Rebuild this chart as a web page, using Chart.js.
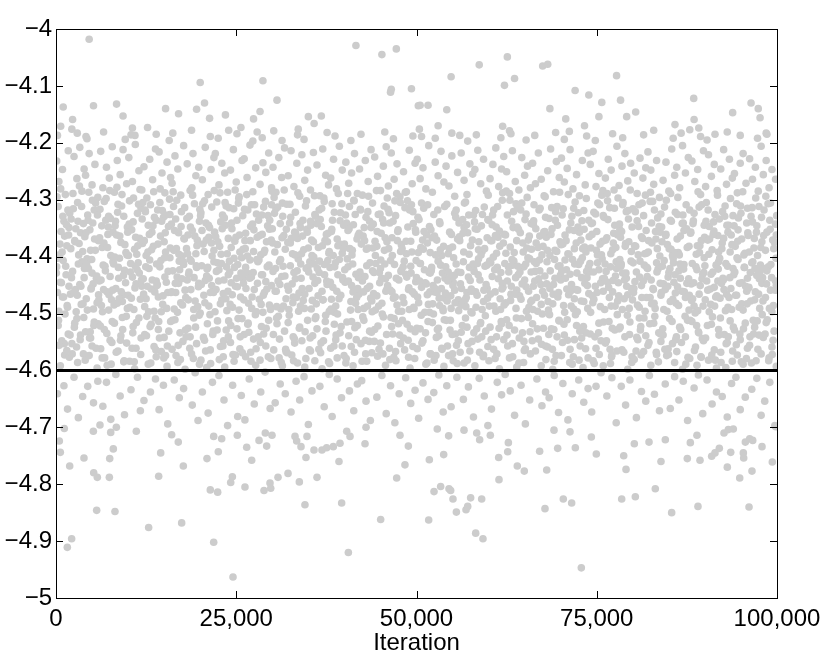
<!DOCTYPE html>
<html lang="en">
<head>
<meta charset="UTF-8">
<title>Sampler trace</title>
<script src="https://cdn.jsdelivr.net/npm/chart.js"></script>
<style>
  html, body { margin: 0; padding: 0; background: #fff; }
  canvas { display: block; }
</style>
</head>
<body>
<canvas id="trace" width="830" height="664"></canvas>
<script>
// axis ticks
const xTicks = [0, 25000, 50000, 75000, 100000];
const yTicks = [-5, -4.9, -4.8, -4.7, -4.6, -4.5, -4.4, -4.3, -4.2, -4.1, -4];
const xRange = [0, 100000];
const refLevel = -4.6;

// samples, pairs of: iteration (thousands), value
const drawsFirstHalf = [
  0.1,-4.232, 0.4,-4.268, 0.9,-4.247, 1.3,-4.291, 1.7,-4.214, 0.2,-4.187, 0.3,-4.312, 0.7,-4.356, 1.1,-4.338, 1.5,-4.381, 1.9,-4.324, 0.5,-4.397, 1.2,-4.364, 1.8,-4.349,
  0.1,-4.418, 0.6,-4.445, 0.9,-4.471, 1.4,-4.432, 1.6,-4.489, 0.2,-4.463, 1.0,-4.407, 1.8,-4.452, 0.4,-4.496, 0.3,-4.521, 0.8,-4.548, 1.2,-4.573, 1.7,-4.536, 0.6,-4.592, 1.5,-4.565, 0.2,-4.641, 1.1,-4.627, 1.6,-4.668,
  2.2,-4.176, 2.5,-4.224, 2.9,-4.263, 3.3,-4.208, 3.6,-4.285, 3.9,-4.246, 2.1,-4.334, 2.6,-4.372, 3.0,-4.305, 3.4,-4.358, 3.7,-4.391, 2.4,-4.316, 3.2,-4.377, 3.8,-4.342,
  2.3,-4.426, 2.7,-4.458, 3.1,-4.413, 3.5,-4.484, 3.9,-4.437, 2.0,-4.466, 2.8,-4.497, 3.3,-4.449, 3.6,-4.409, 2.2,-4.553, 2.6,-4.517, 3.0,-4.586, 3.4,-4.538, 3.8,-4.571, 2.9,-4.509, 2.5,-4.612, 3.1,-4.683, 3.7,-4.646,
  4.3,-4.193, 4.1,-4.257, 4.6,-4.219, 5.0,-4.274, 5.4,-4.238, 5.8,-4.296, 4.0,-4.365, 4.4,-4.327, 4.8,-4.389, 5.1,-4.341, 5.5,-4.306, 5.9,-4.372, 4.7,-4.353, 5.3,-4.318,
  4.2,-4.474, 4.5,-4.421, 4.9,-4.455, 5.2,-4.492, 5.6,-4.438, 5.9,-4.467, 4.3,-4.404, 5.0,-4.429, 5.7,-4.481, 4.1,-4.532, 4.6,-4.574, 5.0,-4.557, 5.3,-4.515, 5.7,-4.596, 4.8,-4.543, 4.4,-4.628, 5.2,-4.657, 5.8,-4.619,
  6.6,-4.181, 6.2,-4.215, 6.5,-4.279, 7.0,-4.243, 7.4,-4.262, 7.8,-4.207, 6.1,-4.317, 6.4,-4.384, 6.9,-4.336, 7.2,-4.361, 7.6,-4.398, 6.7,-4.303, 7.3,-4.329, 7.9,-4.357,
  6.0,-4.443, 6.3,-4.486, 6.8,-4.417, 7.1,-4.462, 7.5,-4.435, 7.9,-4.409, 6.6,-4.458, 7.3,-4.494, 7.7,-4.476, 6.2,-4.562, 6.7,-4.528, 7.1,-4.591, 7.5,-4.547, 7.8,-4.514, 6.4,-4.578, 6.5,-4.663, 7.0,-4.621, 7.6,-4.686,
  9.6,-4.194, 8.1,-4.287, 8.5,-4.231, 8.9,-4.256, 9.3,-4.212, 9.8,-4.272, 8.2,-4.346, 8.6,-4.308, 9.0,-4.375, 9.4,-4.329, 9.7,-4.393, 8.4,-4.362, 9.1,-4.311, 9.9,-4.348,
  8.0,-4.413, 8.3,-4.456, 8.7,-4.438, 9.2,-4.479, 9.5,-4.424, 9.9,-4.491, 8.8,-4.403, 9.3,-4.467, 8.5,-4.482, 8.1,-4.517, 8.6,-4.566, 9.0,-4.539, 9.4,-4.585, 9.8,-4.552, 9.2,-4.507, 8.3,-4.607, 8.9,-4.645, 9.5,-4.678,
  10.4,-4.186, 10.1,-4.226, 10.6,-4.268, 11.0,-4.203, 11.5,-4.249, 11.9,-4.283, 10.2,-4.302, 10.5,-4.353, 10.9,-4.387, 11.3,-4.324, 11.6,-4.368, 10.7,-4.339, 11.2,-4.396, 11.8,-4.315,
  10.0,-4.468, 10.3,-4.427, 10.8,-4.493, 11.1,-4.448, 11.4,-4.411, 11.7,-4.475, 10.6,-4.436, 11.9,-4.452, 11.0,-4.417, 10.2,-4.584, 10.7,-4.523, 11.1,-4.561, 11.5,-4.508, 11.8,-4.543, 10.9,-4.597, 10.4,-4.634, 11.3,-4.612, 11.7,-4.671,
  12.7,-4.173, 12.2,-4.242, 12.6,-4.297, 13.0,-4.229, 13.4,-4.265, 13.8,-4.211, 12.0,-4.377, 12.4,-4.321, 12.8,-4.345, 13.1,-4.309, 13.5,-4.382, 13.9,-4.336, 12.5,-4.398, 13.3,-4.357,
  12.1,-4.439, 12.5,-4.474, 12.9,-4.421, 13.2,-4.457, 13.6,-4.496, 13.9,-4.443, 12.3,-4.488, 13.0,-4.406, 13.7,-4.462, 12.3,-4.537, 12.8,-4.589, 13.2,-4.519, 13.6,-4.558, 13.9,-4.576, 12.6,-4.505, 12.2,-4.653, 13.1,-4.638, 13.8,-4.615,
  15.7,-4.196, 14.3,-4.216, 14.7,-4.253, 15.1,-4.288, 15.4,-4.234, 15.9,-4.261, 14.1,-4.318, 14.5,-4.364, 14.9,-4.331, 15.2,-4.392, 15.6,-4.347, 14.4,-4.305, 15.0,-4.374, 15.8,-4.326,
  14.0,-4.451, 14.4,-4.418, 14.8,-4.484, 15.1,-4.436, 15.5,-4.463, 15.8,-4.402, 14.6,-4.497, 15.3,-4.445, 14.2,-4.471, 14.2,-4.528, 14.6,-4.567, 15.0,-4.542, 15.4,-4.593, 15.9,-4.514, 15.2,-4.574, 14.9,-4.626, 15.5,-4.694, 14.3,-4.669,
  16.2,-4.183, 16.1,-4.271, 16.5,-4.223, 16.9,-4.246, 17.3,-4.292, 17.7,-4.205, 16.0,-4.343, 16.3,-4.312, 16.7,-4.386, 17.0,-4.358, 17.4,-4.321, 17.8,-4.369, 16.6,-4.334, 17.5,-4.399,
  16.2,-4.425, 16.6,-4.463, 17.0,-4.447, 17.3,-4.481, 17.7,-4.414, 17.9,-4.459, 16.4,-4.492, 17.1,-4.408, 16.8,-4.436, 16.1,-4.563, 16.5,-4.511, 16.9,-4.586, 17.2,-4.534, 17.6,-4.549, 17.9,-4.598, 16.4,-4.617, 17.1,-4.648, 17.7,-4.632,
  18.8,-4.178, 18.2,-4.237, 18.6,-4.284, 19.0,-4.219, 19.4,-4.258, 19.8,-4.243, 18.1,-4.386, 18.5,-4.329, 18.9,-4.354, 19.2,-4.307, 19.6,-4.371, 19.9,-4.338, 18.3,-4.362, 19.4,-4.395,
  18.0,-4.472, 18.4,-4.431, 18.7,-4.458, 19.1,-4.493, 19.5,-4.419, 19.8,-4.447, 18.6,-4.405, 19.3,-4.478, 18.2,-4.441, 18.3,-4.526, 18.8,-4.571, 19.1,-4.508, 19.5,-4.553, 19.9,-4.589, 18.6,-4.541, 18.9,-4.661, 19.3,-4.604, 19.7,-4.688,
  21.4,-4.189, 20.3,-4.265, 20.7,-4.208, 21.1,-4.291, 21.5,-4.247, 21.9,-4.226, 20.1,-4.323, 20.4,-4.378, 20.8,-4.341, 21.2,-4.366, 21.6,-4.313, 21.9,-4.389, 20.6,-4.302, 21.3,-4.349,
  20.2,-4.416, 20.5,-4.468, 20.9,-4.434, 21.2,-4.487, 21.6,-4.451, 21.9,-4.409, 20.0,-4.499, 20.7,-4.442, 21.4,-4.463, 20.1,-4.582, 20.6,-4.547, 21.0,-4.518, 21.4,-4.564, 21.8,-4.531, 20.9,-4.595, 20.3,-4.638, 21.1,-4.675, 21.7,-4.621,
  22.5,-4.192, 22.1,-4.219, 22.6,-4.274, 23.0,-4.236, 23.4,-4.253, 23.8,-4.287, 22.0,-4.357, 22.3,-4.304, 22.7,-4.382, 23.1,-4.327, 23.5,-4.345, 23.9,-4.368, 22.9,-4.396, 23.6,-4.311,
  22.2,-4.458, 22.6,-4.423, 23.0,-4.476, 23.3,-4.441, 23.7,-4.495, 23.9,-4.432, 22.4,-4.411, 23.2,-4.465, 22.8,-4.483, 22.4,-4.513, 22.8,-4.558, 23.2,-4.576, 23.6,-4.529, 23.9,-4.541, 23.4,-4.594, 22.6,-4.609, 23.3,-4.652, 23.8,-4.697,
  25.1,-4.184, 24.2,-4.248, 24.6,-4.212, 25.0,-4.269, 25.4,-4.295, 25.8,-4.231, 24.0,-4.314, 24.4,-4.351, 24.8,-4.373, 25.1,-4.336, 25.5,-4.392, 25.9,-4.328, 24.3,-4.384, 25.3,-4.306,
  24.1,-4.427, 24.5,-4.489, 24.9,-4.452, 25.2,-4.414, 25.6,-4.471, 25.9,-4.438, 24.7,-4.403, 25.4,-4.494, 24.3,-4.446, 24.2,-4.551, 24.7,-4.584, 25.1,-4.527, 25.5,-4.562, 25.8,-4.509, 24.9,-4.573, 24.5,-4.626, 25.2,-4.681, 25.7,-4.644,
  27.3,-4.197, 26.1,-4.228, 26.5,-4.261, 26.9,-4.204, 27.3,-4.286, 27.7,-4.244, 26.2,-4.372, 26.6,-4.318, 27.0,-4.347, 27.4,-4.391, 27.8,-4.325, 26.3,-4.359, 27.1,-4.309, 27.9,-4.366,
  26.0,-4.447, 26.3,-4.419, 26.7,-4.482, 27.1,-4.436, 27.5,-4.458, 27.8,-4.497, 26.5,-4.429, 27.2,-4.471, 26.9,-4.406, 26.1,-4.537, 26.6,-4.519, 27.0,-4.568, 27.4,-4.545, 27.7,-4.591, 26.3,-4.576, 26.8,-4.615, 27.5,-4.659, 26.2,-4.687,
  28.6,-4.191, 28.3,-4.273, 28.7,-4.235, 29.1,-4.252, 29.5,-4.218, 29.9,-4.279, 28.1,-4.336, 28.4,-4.397, 28.8,-4.313, 29.2,-4.374, 29.6,-4.352, 29.9,-4.309, 28.6,-4.361, 29.4,-4.328,
  28.2,-4.475, 28.5,-4.432, 28.9,-4.463, 29.3,-4.418, 29.6,-4.485, 29.9,-4.451, 28.0,-4.409, 28.7,-4.498, 29.1,-4.444, 28.3,-4.582, 28.8,-4.536, 29.1,-4.557, 29.5,-4.512, 29.8,-4.579, 28.5,-4.523, 28.4,-4.638, 29.0,-4.603, 29.7,-4.667,
  30.2,-4.179, 30.1,-4.243, 30.5,-4.287, 30.9,-4.226, 31.3,-4.261, 31.7,-4.209, 30.0,-4.351, 30.3,-4.324, 30.7,-4.379, 31.1,-4.342, 31.4,-4.306, 31.8,-4.387, 30.5,-4.316, 31.6,-4.363,
  30.1,-4.426, 30.4,-4.461, 30.8,-4.443, 31.2,-4.492, 31.5,-4.417, 31.9,-4.474, 30.6,-4.488, 31.3,-4.435, 31.0,-4.409, 30.2,-4.564, 30.6,-4.508, 31.0,-4.545, 31.4,-4.592, 31.7,-4.531, 31.9,-4.567, 30.4,-4.657, 31.1,-4.624, 31.8,-4.641,
  33.5,-4.186, 32.2,-4.258, 32.6,-4.214, 33.0,-4.277, 33.4,-4.236, 33.8,-4.294, 32.0,-4.308, 32.4,-4.341, 32.8,-4.395, 33.2,-4.322, 33.5,-4.368, 33.9,-4.349, 32.5,-4.376, 33.1,-4.357,
  32.1,-4.452, 32.5,-4.416, 32.9,-4.471, 33.2,-4.439, 33.6,-4.404, 33.9,-4.487, 32.3,-4.493, 33.0,-4.428, 33.7,-4.464, 32.2,-4.516, 32.7,-4.573, 33.1,-4.552, 33.5,-4.587, 33.8,-4.524, 32.9,-4.541, 32.6,-4.673, 33.3,-4.619, 33.8,-4.652,
  34.4,-4.194, 34.1,-4.221, 34.5,-4.266, 34.9,-4.248, 35.3,-4.283, 35.7,-4.217, 34.2,-4.364, 34.6,-4.311, 35.0,-4.385, 35.3,-4.338, 35.7,-4.374, 35.9,-4.326, 34.8,-4.352, 35.5,-4.398,
  34.0,-4.438, 34.3,-4.477, 34.7,-4.421, 35.1,-4.456, 35.4,-4.492, 35.8,-4.413, 34.5,-4.466, 35.2,-4.409, 35.9,-4.447, 34.1,-4.548, 34.5,-4.594, 34.9,-4.512, 35.3,-4.566, 35.6,-4.539, 35.9,-4.583, 34.4,-4.611, 35.0,-4.695, 35.5,-4.636,
  37.6,-4.182, 36.2,-4.239, 36.6,-4.293, 37.0,-4.211, 37.4,-4.257, 37.8,-4.274, 36.0,-4.329, 36.4,-4.384, 36.8,-4.347, 37.2,-4.303, 37.5,-4.361, 37.9,-4.391, 36.5,-4.318, 37.3,-4.372,
  36.1,-4.483, 36.5,-4.428, 36.9,-4.461, 37.2,-4.414, 37.6,-4.449, 37.9,-4.496, 36.3,-4.442, 37.0,-4.476, 37.7,-4.407, 36.2,-4.527, 36.7,-4.569, 37.1,-4.548, 37.4,-4.503, 37.8,-4.585, 36.9,-4.597, 36.6,-4.628, 37.2,-4.664, 37.9,-4.607,
  38.7,-4.188, 38.1,-4.262, 38.5,-4.229, 38.9,-4.281, 39.3,-4.206, 39.7,-4.248, 38.2,-4.356, 38.6,-4.322, 39.0,-4.369, 39.4,-4.337, 39.7,-4.394, 38.3,-4.307, 39.1,-4.381, 39.9,-4.345,
  38.0,-4.419, 38.4,-4.454, 38.8,-4.487, 39.1,-4.432, 39.5,-4.468, 39.8,-4.441, 38.6,-4.498, 39.3,-4.405, 38.2,-4.475, 38.1,-4.561, 38.6,-4.519, 39.0,-4.578, 39.4,-4.534, 39.7,-4.557, 38.8,-4.546, 38.3,-4.681, 39.0,-4.615, 39.6,-4.648,
  40.9,-4.196, 40.2,-4.234, 40.6,-4.271, 41.0,-4.253, 41.4,-4.219, 41.8,-4.289, 40.0,-4.378, 40.3,-4.341, 40.7,-4.312, 41.1,-4.389, 41.5,-4.326, 41.9,-4.363, 40.5,-4.354, 41.3,-4.301,
  40.1,-4.445, 40.5,-4.418, 40.9,-4.479, 41.2,-4.462, 41.6,-4.431, 41.9,-4.493, 40.4,-4.404, 41.0,-4.451, 41.7,-4.472, 40.2,-4.587, 40.6,-4.539, 41.0,-4.514, 41.4,-4.568, 41.8,-4.521, 41.2,-4.592, 40.7,-4.636, 41.3,-4.671, 41.8,-4.624,
  42.3,-4.185, 42.1,-4.246, 42.5,-4.292, 42.9,-4.231, 43.3,-4.268, 43.7,-4.212, 42.2,-4.317, 42.6,-4.364, 43.0,-4.331, 43.3,-4.385, 43.7,-4.349, 43.9,-4.306, 42.8,-4.372, 43.5,-4.338,
  42.0,-4.466, 42.4,-4.434, 42.7,-4.491, 43.1,-4.416, 43.5,-4.452, 43.8,-4.478, 42.5,-4.443, 43.2,-4.487, 43.9,-4.425, 42.3,-4.553, 42.7,-4.512, 43.1,-4.584, 43.5,-4.531, 43.8,-4.569, 42.9,-4.547, 42.4,-4.618, 43.0,-4.654, 43.6,-4.688,
  45.6,-4.181, 44.2,-4.225, 44.6,-4.259, 45.0,-4.284, 45.4,-4.241, 45.8,-4.207, 44.0,-4.343, 44.3,-4.398, 44.7,-4.326, 45.1,-4.359, 45.5,-4.311, 45.9,-4.374, 44.5,-4.382, 45.3,-4.335,
  44.1,-4.428, 44.5,-4.469, 44.9,-4.446, 45.2,-4.482, 45.6,-4.413, 45.9,-4.457, 44.3,-4.494, 45.0,-4.421, 45.7,-4.439, 44.2,-4.528, 44.6,-4.575, 45.0,-4.552, 45.4,-4.506, 45.7,-4.591, 44.8,-4.563, 44.5,-4.647, 45.2,-4.609, 45.8,-4.676,
  46.8,-4.193, 46.1,-4.276, 46.5,-4.218, 46.9,-4.264, 47.3,-4.237, 47.7,-4.295, 46.2,-4.323, 46.6,-4.367, 47.0,-4.302, 47.4,-4.356, 47.8,-4.391, 46.3,-4.341, 47.1,-4.328, 47.9,-4.379,
  46.0,-4.451, 46.4,-4.407, 46.8,-4.473, 47.2,-4.438, 47.5,-4.496, 47.9,-4.424, 46.6,-4.462, 47.3,-4.485, 46.1,-4.433, 46.3,-4.581, 46.7,-4.536, 47.1,-4.567, 47.5,-4.518, 47.8,-4.553, 46.9,-4.509, 46.4,-4.627, 47.0,-4.692, 47.6,-4.641,
  49.5,-4.188, 48.2,-4.251, 48.6,-4.286, 49.0,-4.213, 49.4,-4.272, 49.8,-4.236, 48.0,-4.386, 48.4,-4.314, 48.8,-4.348, 49.2,-4.373, 49.5,-4.321, 49.9,-4.357, 48.6,-4.395, 49.3,-4.309,
  48.1,-4.472, 48.5,-4.431, 48.9,-4.458, 49.2,-4.417, 49.6,-4.489, 49.9,-4.444, 48.3,-4.408, 49.0,-4.493, 49.7,-4.466, 48.2,-4.543, 48.7,-4.519, 49.1,-4.596, 49.5,-4.558, 49.8,-4.532, 48.9,-4.577, 48.5,-4.613, 49.2,-4.658, 49.8,-4.635
];

const drawsSecondHalf = [
  50.4,-4.176, 50.1,-4.229, 50.5,-4.263, 50.9,-4.244, 51.3,-4.281, 51.7,-4.205, 50.2,-4.331, 50.6,-4.384, 51.0,-4.315, 51.4,-4.362, 51.8,-4.347, 51.9,-4.393, 50.7,-4.306, 51.5,-4.376,
  50.0,-4.437, 50.3,-4.481, 50.7,-4.454, 51.1,-4.423, 51.5,-4.467, 51.8,-4.498, 50.5,-4.412, 51.2,-4.446, 51.9,-4.429, 50.1,-4.562, 50.5,-4.527, 50.9,-4.548, 51.3,-4.589, 51.6,-4.514, 51.9,-4.571, 50.3,-4.684, 50.9,-4.622, 51.6,-4.651,
  52.6,-4.192, 52.2,-4.287, 52.6,-4.234, 53.0,-4.258, 53.4,-4.215, 53.8,-4.269, 52.0,-4.353, 52.4,-4.326, 52.8,-4.371, 53.2,-4.339, 53.5,-4.398, 53.9,-4.312, 52.5,-4.364, 53.3,-4.388,
  52.1,-4.419, 52.5,-4.462, 52.9,-4.441, 53.2,-4.486, 53.6,-4.429, 53.9,-4.473, 52.3,-4.451, 53.0,-4.408, 53.7,-4.495, 52.2,-4.516, 52.7,-4.574, 53.1,-4.539, 53.5,-4.561, 53.8,-4.593, 52.9,-4.528, 52.4,-4.639, 53.1,-4.608, 53.7,-4.673,
  54.9,-4.183, 54.1,-4.241, 54.5,-4.276, 54.9,-4.223, 55.3,-4.294, 55.7,-4.252, 54.2,-4.308, 54.6,-4.357, 55.0,-4.383, 55.3,-4.324, 55.7,-4.369, 55.9,-4.341, 54.4,-4.395, 55.5,-4.318,
  54.0,-4.464, 54.4,-4.427, 54.8,-4.491, 55.1,-4.445, 55.5,-4.413, 55.8,-4.476, 54.6,-4.438, 55.3,-4.459, 55.9,-4.482, 54.3,-4.557, 54.7,-4.512, 55.1,-4.583, 55.4,-4.536, 55.8,-4.548, 55.0,-4.571, 54.2,-4.627, 54.8,-4.664, 55.6,-4.612,
  57.1,-4.197, 56.2,-4.218, 56.6,-4.266, 57.0,-4.291, 57.4,-4.237, 57.8,-4.255, 56.0,-4.372, 56.4,-4.335, 56.8,-4.304, 57.1,-4.358, 57.5,-4.381, 57.9,-4.327, 56.6,-4.349, 57.3,-4.396,
  56.1,-4.448, 56.5,-4.409, 56.9,-4.472, 57.2,-4.436, 57.6,-4.457, 57.9,-4.421, 56.3,-4.485, 57.0,-4.463, 57.7,-4.499, 56.2,-4.533, 56.6,-4.587, 57.0,-4.524, 57.4,-4.566, 57.7,-4.549, 56.8,-4.508, 56.5,-4.651, 57.2,-4.629, 57.9,-4.682,
  58.3,-4.186, 58.1,-4.247, 58.5,-4.213, 58.9,-4.272, 59.3,-4.229, 59.7,-4.285, 58.2,-4.319, 58.6,-4.388, 59.0,-4.346, 59.4,-4.313, 59.8,-4.367, 58.4,-4.352, 59.1,-4.391, 59.9,-4.335,
  58.0,-4.426, 58.4,-4.468, 58.8,-4.441, 59.1,-4.493, 59.5,-4.417, 59.8,-4.456, 58.6,-4.404, 59.3,-4.479, 58.2,-4.462, 58.1,-4.592, 58.5,-4.545, 58.9,-4.516, 59.3,-4.573, 59.6,-4.531, 59.9,-4.558, 58.7,-4.614, 59.4,-4.645, 59.9,-4.697,
  61.7,-4.191, 60.2,-4.263, 60.6,-4.238, 61.0,-4.209, 61.4,-4.277, 61.8,-4.246, 60.0,-4.336, 60.3,-4.372, 60.7,-4.318, 61.1,-4.394, 61.5,-4.355, 61.9,-4.301, 60.5,-4.344, 61.3,-4.366,
  60.1,-4.487, 60.5,-4.435, 60.9,-4.462, 61.2,-4.419, 61.6,-4.474, 61.9,-4.447, 60.3,-4.411, 61.0,-4.496, 61.7,-4.428, 60.2,-4.524, 60.7,-4.563, 61.1,-4.541, 61.5,-4.597, 61.8,-4.518, 60.9,-4.579, 60.4,-4.668, 61.2,-4.621, 61.8,-4.643,
  62.9,-4.179, 62.1,-4.224, 62.5,-4.251, 62.9,-4.289, 63.3,-4.214, 63.7,-4.268, 62.2,-4.361, 62.6,-4.327, 63.0,-4.383, 63.4,-4.349, 63.8,-4.307, 62.4,-4.394, 63.2,-4.338, 63.9,-4.372,
  62.0,-4.454, 62.4,-4.481, 62.8,-4.427, 63.1,-4.466, 63.5,-4.408, 63.8,-4.491, 62.6,-4.443, 63.3,-4.415, 63.9,-4.459, 62.1,-4.546, 62.5,-4.511, 62.9,-4.578, 63.3,-4.553, 63.6,-4.529, 63.9,-4.594, 62.3,-4.607, 63.0,-4.636, 63.6,-4.679,
  65.2,-4.195, 64.2,-4.283, 64.6,-4.226, 65.0,-4.257, 65.4,-4.241, 65.8,-4.279, 64.0,-4.314, 64.4,-4.358, 64.8,-4.392, 65.2,-4.325, 65.5,-4.371, 65.9,-4.342, 64.6,-4.306, 65.3,-4.385,
  64.1,-4.432, 64.5,-4.475, 64.9,-4.418, 65.2,-4.453, 65.6,-4.489, 65.9,-4.427, 64.3,-4.469, 65.0,-4.441, 65.7,-4.404, 64.2,-4.587, 64.7,-4.534, 65.1,-4.562, 65.5,-4.507, 65.8,-4.571, 64.9,-4.549, 64.5,-4.626, 65.1,-4.694, 65.7,-4.652,
  66.4,-4.187, 66.1,-4.236, 66.5,-4.272, 66.9,-4.218, 67.3,-4.264, 67.7,-4.293, 66.2,-4.343, 66.6,-4.376, 67.0,-4.318, 67.4,-4.397, 67.8,-4.356, 66.3,-4.309, 67.1,-4.364, 67.9,-4.331,
  66.0,-4.477, 66.4,-4.443, 66.8,-4.496, 67.1,-4.425, 67.5,-4.461, 67.8,-4.434, 66.6,-4.412, 67.3,-4.484, 66.2,-4.452, 66.1,-4.518, 66.5,-4.566, 66.9,-4.545, 67.3,-4.592, 67.6,-4.526, 67.9,-4.557, 66.7,-4.615, 67.4,-4.662, 67.9,-4.638,
  69.3,-4.182, 68.2,-4.249, 68.6,-4.211, 69.0,-4.286, 69.4,-4.233, 69.8,-4.261, 68.0,-4.366, 68.4,-4.333, 68.8,-4.351, 69.2,-4.389, 69.5,-4.312, 69.9,-4.374, 68.5,-4.398, 69.3,-4.321,
  68.1,-4.409, 68.5,-4.456, 68.9,-4.483, 69.2,-4.438, 69.6,-4.471, 69.9,-4.416, 68.3,-4.494, 69.0,-4.449, 69.7,-4.463, 68.2,-4.559, 68.7,-4.527, 69.1,-4.584, 69.5,-4.541, 69.8,-4.513, 68.9,-4.598, 68.4,-4.648, 69.1,-4.609, 69.7,-4.674,
  70.5,-4.194, 70.1,-4.227, 70.5,-4.269, 70.9,-4.245, 71.3,-4.212, 71.7,-4.281, 70.2,-4.327, 70.6,-4.362, 71.0,-4.395, 71.4,-4.341, 71.8,-4.315, 70.3,-4.378, 71.2,-4.353, 71.9,-4.386,
  70.0,-4.441, 70.4,-4.486, 70.8,-4.423, 71.1,-4.467, 71.5,-4.449, 71.8,-4.492, 70.6,-4.406, 71.3,-4.431, 71.9,-4.474, 70.1,-4.574, 70.5,-4.538, 70.9,-4.511, 71.3,-4.563, 71.6,-4.589, 71.9,-4.546, 70.3,-4.623, 71.0,-4.687, 71.6,-4.641,
  73.6,-4.188, 72.2,-4.256, 72.6,-4.293, 73.0,-4.231, 73.4,-4.274, 73.8,-4.218, 72.0,-4.304, 72.4,-4.348, 72.8,-4.371, 73.2,-4.319, 73.5,-4.392, 73.9,-4.336, 72.6,-4.357, 73.3,-4.383,
  72.1,-4.458, 72.5,-4.414, 72.9,-4.437, 73.2,-4.479, 73.6,-4.426, 73.9,-4.465, 72.3,-4.497, 73.0,-4.402, 73.7,-4.451, 72.2,-4.521, 72.7,-4.557, 73.1,-4.595, 73.5,-4.534, 73.8,-4.578, 72.9,-4.543, 72.5,-4.617, 73.2,-4.656, 73.8,-4.632,
  74.8,-4.196, 74.1,-4.238, 74.5,-4.215, 74.9,-4.277, 75.3,-4.254, 75.7,-4.292, 74.2,-4.385, 74.6,-4.322, 75.0,-4.356, 75.4,-4.309, 75.8,-4.373, 74.4,-4.341, 75.1,-4.397, 75.9,-4.328,
  74.0,-4.427, 74.4,-4.469, 74.8,-4.452, 75.1,-4.411, 75.5,-4.488, 75.8,-4.439, 74.6,-4.475, 75.3,-4.423, 75.9,-4.461, 74.1,-4.536, 74.5,-4.583, 74.9,-4.561, 75.3,-4.517, 75.6,-4.548, 75.9,-4.592, 74.3,-4.673, 74.9,-4.628, 75.6,-4.604,
  77.2,-4.184, 76.2,-4.262, 76.6,-4.229, 77.0,-4.248, 77.4,-4.283, 77.8,-4.206, 76.0,-4.331, 76.4,-4.367, 76.8,-4.314, 77.2,-4.388, 77.5,-4.345, 77.9,-4.362, 76.5,-4.302, 77.3,-4.376,
  76.1,-4.493, 76.5,-4.445, 76.9,-4.418, 77.2,-4.462, 77.6,-4.434, 77.9,-4.478, 76.3,-4.426, 77.0,-4.487, 77.7,-4.409, 76.2,-4.552, 76.7,-4.514, 77.1,-4.573, 77.5,-4.529, 77.8,-4.566, 76.9,-4.588, 76.4,-4.645, 77.1,-4.613, 77.7,-4.692,
  78.6,-4.191, 78.1,-4.275, 78.5,-4.241, 78.9,-4.219, 79.3,-4.267, 79.7,-4.236, 78.2,-4.353, 78.6,-4.309, 79.0,-4.377, 79.4,-4.334, 79.8,-4.391, 78.3,-4.366, 79.1,-4.321, 79.9,-4.348,
  78.0,-4.446, 78.4,-4.413, 78.8,-4.474, 79.1,-4.438, 79.5,-4.491, 79.8,-4.456, 78.6,-4.429, 79.3,-4.467, 78.2,-4.405, 78.1,-4.527, 78.5,-4.564, 78.9,-4.541, 79.3,-4.598, 79.6,-4.515, 79.9,-4.576, 78.4,-4.628, 79.0,-4.661, 79.6,-4.617,
  81.5,-4.186, 80.2,-4.253, 80.6,-4.289, 81.0,-4.227, 81.4,-4.262, 81.8,-4.244, 80.0,-4.316, 80.4,-4.382, 80.8,-4.347, 81.2,-4.365, 81.5,-4.328, 81.9,-4.394, 80.6,-4.337, 81.3,-4.306,
  80.1,-4.463, 80.5,-4.427, 80.9,-4.489, 81.2,-4.451, 81.6,-4.415, 81.9,-4.472, 80.3,-4.444, 81.0,-4.408, 81.7,-4.496, 80.2,-4.581, 80.7,-4.546, 81.1,-4.523, 81.5,-4.567, 81.8,-4.539, 80.9,-4.508, 80.5,-4.683, 81.2,-4.637, 81.8,-4.654,
  82.9,-4.178, 82.1,-4.216, 82.5,-4.248, 82.9,-4.273, 83.3,-4.231, 83.7,-4.296, 82.2,-4.372, 82.6,-4.341, 83.0,-4.318, 83.4,-4.386, 83.8,-4.357, 82.4,-4.303, 83.2,-4.369, 83.9,-4.325,
  82.0,-4.435, 82.4,-4.472, 82.8,-4.456, 83.1,-4.491, 83.5,-4.422, 83.8,-4.447, 82.6,-4.483, 83.3,-4.411, 83.9,-4.468, 82.1,-4.556, 82.5,-4.591, 82.9,-4.517, 83.3,-4.572, 83.6,-4.534, 83.9,-4.549, 82.3,-4.609, 83.0,-4.642, 83.7,-4.671,
  85.6,-4.192, 84.2,-4.266, 84.6,-4.234, 85.0,-4.285, 85.4,-4.211, 85.8,-4.257, 84.0,-4.348, 84.4,-4.313, 84.8,-4.379, 85.2,-4.336, 85.5,-4.398, 85.9,-4.322, 84.6,-4.361, 85.3,-4.387,
  84.1,-4.417, 84.5,-4.458, 84.9,-4.436, 85.2,-4.479, 85.6,-4.403, 85.9,-4.464, 84.3,-4.493, 85.0,-4.428, 85.7,-4.445, 84.2,-4.538, 84.7,-4.574, 85.1,-4.509, 85.5,-4.553, 85.8,-4.586, 84.9,-4.562, 84.5,-4.624, 85.2,-4.667, 85.8,-4.611,
  86.7,-4.183, 86.1,-4.243, 86.5,-4.279, 86.9,-4.205, 87.3,-4.253, 87.7,-4.226, 86.2,-4.326, 86.6,-4.364, 87.0,-4.341, 87.4,-4.309, 87.8,-4.382, 86.3,-4.393, 87.1,-4.354, 87.9,-4.318,
  86.0,-4.482, 86.4,-4.425, 86.8,-4.461, 87.1,-4.414, 87.5,-4.447, 87.8,-4.494, 86.6,-4.438, 87.3,-4.472, 86.2,-4.453, 86.1,-4.567, 86.5,-4.524, 86.9,-4.598, 87.3,-4.541, 87.6,-4.512, 87.9,-4.579, 86.4,-4.652, 87.0,-4.619, 87.6,-4.688,
  89.4,-4.189, 88.2,-4.232, 88.6,-4.268, 89.0,-4.247, 89.4,-4.291, 89.8,-4.214, 88.0,-4.359, 88.4,-4.337, 88.8,-4.396, 89.2,-4.313, 89.5,-4.372, 89.9,-4.345, 88.5,-4.324, 89.3,-4.381,
  88.1,-4.448, 88.5,-4.487, 88.9,-4.423, 89.2,-4.466, 89.6,-4.439, 89.9,-4.402, 88.3,-4.474, 89.0,-4.495, 89.7,-4.431, 88.2,-4.514, 88.7,-4.559, 89.1,-4.532, 89.5,-4.577, 89.8,-4.548, 88.9,-4.591, 88.5,-4.631, 89.1,-4.608, 89.7,-4.676,
  90.3,-4.195, 90.1,-4.277, 90.5,-4.221, 90.9,-4.259, 91.3,-4.238, 91.7,-4.284, 90.2,-4.305, 90.6,-4.347, 91.0,-4.388, 91.4,-4.326, 91.8,-4.363, 90.4,-4.371, 91.2,-4.339, 91.9,-4.392,
  90.0,-4.416, 90.4,-4.459, 90.8,-4.484, 91.1,-4.427, 91.5,-4.471, 91.8,-4.443, 90.6,-4.497, 91.3,-4.454, 91.9,-4.409, 90.1,-4.543, 90.5,-4.582, 90.9,-4.519, 91.3,-4.564, 91.6,-4.596, 91.9,-4.528, 90.3,-4.617, 91.0,-4.659, 91.6,-4.638,
  93.1,-4.181, 92.2,-4.246, 92.6,-4.212, 93.0,-4.273, 93.4,-4.229, 93.8,-4.262, 92.0,-4.334, 92.4,-4.376, 92.8,-4.311, 93.2,-4.357, 93.5,-4.392, 93.9,-4.328, 92.6,-4.368, 93.3,-4.345,
  92.1,-4.473, 92.5,-4.438, 92.9,-4.412, 93.2,-4.489, 93.6,-4.456, 93.9,-4.421, 92.3,-4.447, 93.0,-4.466, 93.7,-4.493, 92.2,-4.568, 92.7,-4.537, 93.1,-4.551, 93.5,-4.513, 93.8,-4.584, 92.9,-4.595, 92.4,-4.646, 93.1,-4.682, 93.7,-4.623,
  94.9,-4.187, 94.1,-4.254, 94.5,-4.288, 94.9,-4.236, 95.3,-4.219, 95.7,-4.271, 94.2,-4.382, 94.6,-4.353, 95.0,-4.324, 95.4,-4.397, 95.8,-4.341, 94.4,-4.307, 95.1,-4.369, 95.9,-4.315,
  94.0,-4.432, 94.4,-4.468, 94.8,-4.447, 95.1,-4.483, 95.5,-4.419, 95.8,-4.461, 94.6,-4.405, 95.3,-4.494, 95.9,-4.438, 94.1,-4.529, 94.5,-4.573, 94.9,-4.546, 95.3,-4.589, 95.6,-4.517, 95.9,-4.561, 94.3,-4.612, 94.9,-4.669, 95.6,-4.647,
  97.3,-4.192, 96.2,-4.228, 96.6,-4.264, 97.0,-4.243, 97.4,-4.285, 97.8,-4.206, 96.0,-4.363, 96.4,-4.329, 96.8,-4.385, 97.2,-4.346, 97.5,-4.312, 97.9,-4.374, 96.6,-4.339, 97.3,-4.398,
  96.1,-4.454, 96.5,-4.411, 96.9,-4.476, 97.2,-4.433, 97.6,-4.491, 97.9,-4.447, 96.3,-4.428, 97.0,-4.462, 97.7,-4.415, 96.2,-4.556, 96.7,-4.512, 97.1,-4.583, 97.5,-4.538, 97.8,-4.571, 96.9,-4.524, 96.5,-4.633, 97.2,-4.614, 97.8,-4.679,
  98.6,-4.185, 98.1,-4.256, 98.5,-4.231, 98.9,-4.279, 99.3,-4.247, 99.8,-4.264, 98.2,-4.318, 98.6,-4.357, 99.0,-4.336, 99.4,-4.371, 99.8,-4.343, 98.4,-4.389, 99.1,-4.306, 99.9,-4.362,
  98.0,-4.437, 98.4,-4.472, 98.8,-4.418, 99.1,-4.459, 99.5,-4.486, 99.8,-4.443, 98.6,-4.425, 99.3,-4.497, 99.9,-4.451, 98.1,-4.542, 98.5,-4.516, 98.9,-4.578, 99.3,-4.559, 99.6,-4.531, 99.9,-4.593, 98.3,-4.654, 99.0,-4.621, 99.7,-4.697
];

// extra draws filling the dense core between about -4.28 and -4.59
const drawsCore = [
  0.15,-4.295, 0.35,-4.512, 0.55,-4.378, 0.75,-4.446, 0.95,-4.329, 1.15,-4.553, 1.35,-4.417, 1.55,-4.486, 1.75,-4.362, 1.95,-4.538, 0.25,-4.403, 0.65,-4.281, 1.05,-4.471, 1.45,-4.344, 1.85,-4.577, 0.05,-4.429, 0.45,-4.556, 0.85,-4.392, 1.25,-4.501, 1.65,-4.318,
  2.15,-4.437, 2.35,-4.289, 2.55,-4.524, 2.75,-4.351, 2.95,-4.468, 3.15,-4.397, 3.35,-4.546, 3.55,-4.312, 3.75,-4.483, 3.95,-4.421, 2.25,-4.571, 2.65,-4.374, 3.05,-4.338, 3.45,-4.452, 3.85,-4.507, 2.05,-4.386, 2.45,-4.463, 2.85,-4.559, 3.25,-4.276, 3.65,-4.412,
  4.15,-4.358, 4.35,-4.494, 4.55,-4.287, 4.75,-4.532, 4.95,-4.405, 5.15,-4.448, 5.35,-4.369, 5.55,-4.561, 5.75,-4.327, 5.95,-4.476, 4.25,-4.413, 4.65,-4.543, 5.05,-4.301, 5.45,-4.389, 5.85,-4.518, 4.05,-4.582, 4.45,-4.336, 4.85,-4.457, 5.25,-4.521, 5.65,-4.434,
  6.15,-4.522, 6.35,-4.346, 6.55,-4.415, 6.75,-4.578, 6.95,-4.298, 7.15,-4.384, 7.35,-4.467, 7.55,-4.333, 7.75,-4.551, 7.95,-4.402, 6.25,-4.441, 6.65,-4.376, 7.05,-4.535, 7.45,-4.284, 7.85,-4.459, 6.05,-4.367, 6.45,-4.497, 6.85,-4.425, 7.25,-4.348, 7.65,-4.589,
  8.15,-4.401, 8.35,-4.568, 8.55,-4.322, 8.75,-4.474, 8.95,-4.547, 9.15,-4.291, 9.35,-4.433, 9.55,-4.379, 9.75,-4.505, 9.95,-4.357, 8.25,-4.338, 8.65,-4.419, 9.05,-4.462, 9.45,-4.583, 9.85,-4.397, 8.05,-4.485, 8.45,-4.278, 8.85,-4.364, 9.25,-4.528, 9.65,-4.446,
  10.15,-4.343, 10.35,-4.412, 10.55,-4.561, 10.75,-4.297, 10.95,-4.455, 11.15,-4.516, 11.35,-4.381, 11.55,-4.429, 11.75,-4.572, 11.95,-4.334, 10.25,-4.489, 10.65,-4.534, 11.05,-4.366, 11.45,-4.308, 11.85,-4.441, 10.05,-4.398, 10.45,-4.473, 10.85,-4.585, 11.25,-4.423, 11.65,-4.282,
  12.15,-4.466, 12.35,-4.318, 12.55,-4.539, 12.75,-4.392, 12.95,-4.361, 13.15,-4.587, 13.35,-4.441, 13.55,-4.286, 13.75,-4.508, 13.95,-4.413, 12.25,-4.372, 12.65,-4.452, 13.05,-4.523, 13.45,-4.346, 13.85,-4.564, 12.05,-4.305, 12.45,-4.418, 12.85,-4.497, 13.25,-4.388, 13.65,-4.331,
  14.15,-4.378, 14.35,-4.543, 14.55,-4.407, 14.75,-4.319, 14.95,-4.578, 15.15,-4.358, 15.35,-4.491, 15.55,-4.426, 15.75,-4.299, 15.95,-4.463, 14.25,-4.514, 14.65,-4.338, 15.05,-4.402, 15.45,-4.557, 15.85,-4.385, 14.05,-4.449, 14.45,-4.281, 14.85,-4.469, 15.25,-4.327, 15.65,-4.531,
  16.15,-4.512, 16.35,-4.389, 16.55,-4.447, 16.75,-4.301, 16.95,-4.556, 17.15,-4.423, 17.35,-4.347, 17.55,-4.485, 17.75,-4.368, 17.95,-4.529, 16.25,-4.286, 16.65,-4.574, 17.05,-4.396, 17.45,-4.439, 17.85,-4.314, 16.05,-4.462, 16.45,-4.354, 16.85,-4.498, 17.25,-4.581, 17.65,-4.409,
  18.15,-4.333, 18.35,-4.476, 18.55,-4.561, 18.75,-4.408, 18.95,-4.292, 19.15,-4.437, 19.35,-4.524, 19.55,-4.381, 19.75,-4.453, 19.95,-4.317, 18.25,-4.395, 18.65,-4.348, 19.05,-4.579, 19.45,-4.416, 19.85,-4.503, 18.05,-4.541, 18.45,-4.427, 18.85,-4.279, 19.25,-4.364, 19.65,-4.488,
  20.15,-4.449, 20.35,-4.307, 20.55,-4.391, 20.75,-4.566, 20.95,-4.422, 21.15,-4.345, 21.35,-4.502, 21.55,-4.376, 21.75,-4.537, 21.95,-4.284, 20.25,-4.354, 20.65,-4.481, 21.05,-4.419, 21.45,-4.588, 21.85,-4.463, 20.05,-4.328, 20.45,-4.542, 20.85,-4.371, 21.25,-4.438, 21.65,-4.399,
  22.15,-4.365, 22.35,-4.529, 22.55,-4.443, 22.75,-4.288, 22.95,-4.412, 23.15,-4.557, 23.35,-4.332, 23.55,-4.474, 23.75,-4.395, 23.95,-4.513, 22.25,-4.426, 22.65,-4.581, 23.05,-4.351, 23.45,-4.305, 23.85,-4.461, 22.05,-4.497, 22.45,-4.374, 22.85,-4.339, 23.25,-4.548, 23.65,-4.418,
  24.15,-4.484, 24.35,-4.341, 24.55,-4.572, 24.75,-4.419, 24.95,-4.366, 25.15,-4.453, 25.35,-4.298, 25.55,-4.541, 25.75,-4.402, 25.95,-4.387, 24.25,-4.521, 24.65,-4.316, 25.05,-4.438, 25.45,-4.362, 25.85,-4.569, 24.05,-4.408, 24.45,-4.467, 24.85,-4.283, 25.25,-4.509, 25.65,-4.429,
  26.15,-4.317, 26.35,-4.456, 26.55,-4.399, 26.75,-4.533, 26.95,-4.372, 27.15,-4.491, 27.35,-4.428, 27.55,-4.309, 27.75,-4.562, 27.95,-4.447, 26.25,-4.386, 26.65,-4.517, 27.05,-4.584, 27.45,-4.353, 27.85,-4.405, 26.05,-4.476, 26.45,-4.291, 26.85,-4.438, 27.25,-4.343, 27.65,-4.502,
  28.15,-4.406, 28.35,-4.551, 28.55,-4.327, 28.75,-4.468, 28.95,-4.389, 29.15,-4.526, 29.35,-4.346, 29.55,-4.415, 29.75,-4.493, 29.95,-4.285, 28.25,-4.363, 28.65,-4.432, 29.05,-4.303, 29.45,-4.576, 29.85,-4.371, 28.05,-4.541, 28.45,-4.484, 28.85,-4.393, 29.25,-4.457, 29.65,-4.336,
  30.15,-4.537, 30.35,-4.392, 30.55,-4.461, 30.75,-4.313, 30.95,-4.578, 31.15,-4.405, 31.35,-4.367, 31.55,-4.487, 31.75,-4.434, 31.95,-4.352, 30.25,-4.296, 30.65,-4.518, 31.05,-4.449, 31.45,-4.329, 31.85,-4.563, 30.05,-4.376, 30.45,-4.421, 30.85,-4.505, 31.25,-4.586, 31.65,-4.283,
  32.15,-4.375, 32.35,-4.503, 32.55,-4.331, 32.75,-4.448, 32.95,-4.583, 33.15,-4.397, 33.35,-4.472, 33.55,-4.288, 33.75,-4.526, 33.95,-4.413, 32.25,-4.459, 32.65,-4.368, 33.05,-4.544, 33.45,-4.425, 33.85,-4.342, 32.05,-4.569, 32.45,-4.308, 32.85,-4.481, 33.25,-4.359, 33.65,-4.496,
  34.15,-4.456, 34.35,-4.388, 34.55,-4.532, 34.75,-4.302, 34.95,-4.419, 35.15,-4.564, 35.35,-4.345, 35.55,-4.477, 35.75,-4.401, 35.95,-4.509, 34.25,-4.336, 34.65,-4.579, 35.05,-4.427, 35.45,-4.371, 35.85,-4.293, 34.05,-4.395, 34.45,-4.491, 34.85,-4.357, 35.25,-4.543, 35.65,-4.436,
  36.15,-4.342, 36.35,-4.469, 36.55,-4.408, 36.75,-4.552, 36.95,-4.381, 37.15,-4.297, 37.35,-4.514, 37.55,-4.443, 37.75,-4.359, 37.95,-4.588, 36.25,-4.421, 36.65,-4.335, 37.05,-4.476, 37.45,-4.531, 37.85,-4.394, 36.05,-4.506, 36.45,-4.563, 36.85,-4.315, 37.25,-4.432, 37.65,-4.374,
  38.15,-4.492, 38.35,-4.336, 38.55,-4.557, 38.75,-4.411, 38.95,-4.461, 39.15,-4.289, 39.35,-4.378, 39.55,-4.523, 39.75,-4.437, 39.95,-4.574, 38.25,-4.352, 38.65,-4.418, 39.05,-4.501, 39.45,-4.323, 39.85,-4.386, 38.05,-4.445, 38.45,-4.398, 38.85,-4.538, 39.25,-4.474, 39.65,-4.307,
  40.15,-4.327, 40.35,-4.515, 40.55,-4.443, 40.75,-4.386, 40.95,-4.558, 41.15,-4.413, 41.35,-4.302, 41.55,-4.482, 41.75,-4.369, 41.95,-4.437, 40.25,-4.579, 40.65,-4.351, 41.05,-4.397, 41.45,-4.525, 41.85,-4.456, 40.05,-4.423, 40.45,-4.289, 40.85,-4.494, 41.25,-4.344, 41.65,-4.546,
  42.15,-4.427, 42.35,-4.378, 42.55,-4.506, 42.75,-4.349, 42.95,-4.571, 43.15,-4.456, 43.35,-4.294, 43.55,-4.411, 43.75,-4.533, 43.95,-4.385, 42.25,-4.318, 42.65,-4.462, 43.05,-4.387, 43.45,-4.549, 43.85,-4.497, 42.05,-4.359, 42.45,-4.584, 42.85,-4.435, 43.25,-4.321, 43.65,-4.473,
  44.15,-4.549, 44.35,-4.412, 44.55,-4.356, 44.75,-4.487, 44.95,-4.325, 45.15,-4.438, 45.35,-4.571, 45.55,-4.389, 45.75,-4.461, 45.95,-4.297, 44.25,-4.373, 44.65,-4.522, 45.05,-4.406, 45.45,-4.341, 45.85,-4.537, 44.05,-4.465, 44.45,-4.284, 44.85,-4.428, 45.25,-4.501, 45.65,-4.367,
  46.15,-4.386, 46.35,-4.459, 46.55,-4.523, 46.75,-4.338, 46.95,-4.414, 47.15,-4.583, 47.35,-4.372, 47.55,-4.441, 47.75,-4.305, 47.95,-4.496, 46.25,-4.561, 46.65,-4.398, 47.05,-4.471, 47.45,-4.353, 47.85,-4.426, 46.05,-4.317, 46.45,-4.507, 46.85,-4.577, 47.25,-4.289, 47.65,-4.538,
  48.15,-4.418, 48.35,-4.564, 48.55,-4.373, 48.75,-4.302, 48.95,-4.455, 49.15,-4.527, 49.35,-4.392, 49.55,-4.342, 49.75,-4.579, 49.95,-4.407, 48.25,-4.481, 48.65,-4.436, 49.05,-4.318, 49.45,-4.462, 49.85,-4.353, 48.05,-4.512, 48.45,-4.287, 48.85,-4.547, 49.25,-4.429, 49.65,-4.491,
  50.15,-4.471, 50.35,-4.335, 50.55,-4.412, 50.75,-4.552, 50.95,-4.387, 51.15,-4.498, 51.35,-4.448, 51.55,-4.309, 51.75,-4.428, 51.95,-4.571, 50.25,-4.393, 50.65,-4.503, 51.05,-4.356, 51.45,-4.587, 51.85,-4.462, 50.05,-4.526, 50.45,-4.443, 50.85,-4.371, 51.25,-4.534, 51.65,-4.484,
  52.15,-4.367, 52.35,-4.501, 52.55,-4.456, 52.75,-4.542, 52.95,-4.318, 53.15,-4.473, 53.35,-4.415, 53.55,-4.563, 53.75,-4.382, 53.95,-4.438, 52.25,-4.483, 52.65,-4.397, 53.05,-4.526, 53.45,-4.456, 53.85,-4.511, 52.05,-4.425, 52.45,-4.582, 52.85,-4.463, 53.25,-4.342, 53.65,-4.491,
  54.15,-4.512, 54.35,-4.443, 54.55,-4.386, 54.75,-4.469, 54.95,-4.537, 55.15,-4.402, 55.35,-4.481, 55.55,-4.556, 55.75,-4.427, 55.95,-4.365, 54.25,-4.478, 54.65,-4.529, 55.05,-4.451, 55.45,-4.331, 55.85,-4.495, 54.05,-4.418, 54.45,-4.574, 54.85,-4.361, 55.25,-4.433, 55.65,-4.588,
  56.15,-4.428, 56.35,-4.521, 56.55,-4.392, 56.75,-4.476, 56.95,-4.344, 57.15,-4.553, 57.35,-4.419, 57.55,-4.497, 57.75,-4.371, 57.95,-4.534, 56.25,-4.456, 56.65,-4.306, 57.05,-4.582, 57.45,-4.442, 57.85,-4.413, 56.05,-4.568, 56.45,-4.359, 56.85,-4.488, 57.25,-4.327, 57.65,-4.461,
  58.15,-4.351, 58.35,-4.527, 58.55,-4.432, 58.75,-4.568, 58.95,-4.397, 59.15,-4.326, 59.35,-4.459, 59.55,-4.504, 59.75,-4.415, 59.95,-4.292, 58.25,-4.489, 58.65,-4.374, 59.05,-4.541, 59.45,-4.386, 59.85,-4.473, 58.05,-4.339, 58.45,-4.412, 58.85,-4.518, 59.25,-4.576, 59.65,-4.449,
  60.15,-4.408, 60.35,-4.546, 60.55,-4.327, 60.75,-4.487, 60.95,-4.363, 61.15,-4.571, 61.35,-4.439, 61.55,-4.382, 61.75,-4.514, 61.95,-4.288, 60.25,-4.466, 60.65,-4.401, 61.05,-4.348, 61.45,-4.526, 61.85,-4.457, 60.05,-4.583, 60.45,-4.372, 60.85,-4.423, 61.25,-4.312, 61.65,-4.493,
  62.15,-4.485, 62.35,-4.362, 62.55,-4.538, 62.75,-4.418, 62.95,-4.301, 63.15,-4.452, 63.35,-4.576, 63.55,-4.393, 63.75,-4.437, 63.95,-4.348, 62.25,-4.412, 62.65,-4.557, 63.05,-4.477, 63.45,-4.321, 63.85,-4.508, 62.05,-4.376, 62.45,-4.285, 62.85,-4.521, 63.25,-4.405, 63.65,-4.466,
  64.15,-4.352, 64.35,-4.427, 64.55,-4.509, 64.75,-4.376, 64.95,-4.565, 65.15,-4.413, 65.35,-4.296, 65.55,-4.461, 65.75,-4.532, 65.95,-4.387, 64.25,-4.543, 64.65,-4.448, 65.05,-4.335, 65.45,-4.402, 65.85,-4.479, 64.05,-4.417, 64.45,-4.318, 64.85,-4.586, 65.25,-4.496, 65.65,-4.364,
  66.15,-4.493, 66.35,-4.409, 66.55,-4.351, 66.75,-4.527, 66.95,-4.439, 67.15,-4.315, 67.35,-4.554, 67.55,-4.382, 67.75,-4.468, 67.95,-4.581, 66.25,-4.337, 66.65,-4.472, 67.05,-4.406, 67.45,-4.501, 67.85,-4.295, 66.05,-4.548, 66.45,-4.426, 66.85,-4.384, 67.25,-4.449, 67.65,-4.357,
  68.15,-4.389, 68.35,-4.537, 68.55,-4.425, 68.75,-4.314, 68.95,-4.466, 69.15,-4.405, 69.35,-4.574, 69.55,-4.345, 69.75,-4.512, 69.95,-4.433, 68.25,-4.479, 68.65,-4.361, 69.05,-4.528, 69.45,-4.391, 69.85,-4.287, 68.05,-4.448, 68.45,-4.502, 68.85,-4.563, 69.25,-4.336, 69.65,-4.417,
  70.15,-4.425, 70.35,-4.316, 70.55,-4.498, 70.75,-4.372, 70.95,-4.547, 71.15,-4.396, 71.35,-4.461, 71.55,-4.329, 71.75,-4.576, 71.95,-4.413, 70.25,-4.551, 70.65,-4.438, 71.05,-4.291, 71.45,-4.487, 71.85,-4.354, 70.05,-4.379, 70.45,-4.519, 70.85,-4.457, 71.25,-4.586, 71.65,-4.405,
  72.15,-4.376, 72.35,-4.459, 72.55,-4.582, 72.75,-4.408, 72.95,-4.337, 73.15,-4.523, 73.35,-4.447, 73.55,-4.298, 73.75,-4.491, 73.95,-4.365, 72.25,-4.429, 72.65,-4.531, 73.05,-4.386, 73.45,-4.562, 73.85,-4.419, 72.05,-4.502, 72.45,-4.323, 72.85,-4.478, 73.25,-4.352, 73.65,-4.437,
  74.15,-4.498, 74.35,-4.361, 74.55,-4.427, 74.75,-4.541, 74.95,-4.389, 75.15,-4.306, 75.35,-4.572, 75.55,-4.446, 75.75,-4.404, 75.95,-4.515, 74.25,-4.342, 74.65,-4.588, 75.05,-4.463, 75.45,-4.378, 75.85,-4.284, 74.05,-4.412, 74.45,-4.481, 74.85,-4.325, 75.25,-4.534, 75.65,-4.397,
  76.15,-4.413, 76.35,-4.548, 76.55,-4.335, 76.75,-4.472, 76.95,-4.395, 77.15,-4.526, 77.35,-4.359, 77.55,-4.487, 77.75,-4.421, 77.95,-4.297, 76.25,-4.371, 76.65,-4.454, 77.05,-4.576, 77.45,-4.315, 77.85,-4.502, 76.05,-4.438, 76.45,-4.289, 76.85,-4.563, 77.25,-4.442, 77.65,-4.384,
  78.15,-4.343, 78.35,-4.417, 78.55,-4.493, 78.75,-4.568, 78.95,-4.382, 79.15,-4.452, 79.35,-4.319, 79.55,-4.537, 79.75,-4.408, 79.95,-4.476, 78.25,-4.524, 78.65,-4.305, 79.05,-4.429, 79.45,-4.374, 79.85,-4.586, 78.05,-4.469, 78.45,-4.356, 78.85,-4.441, 79.25,-4.503, 79.65,-4.283,
  80.15,-4.456, 80.35,-4.321, 80.55,-4.542, 80.75,-4.397, 80.95,-4.436, 81.15,-4.573, 81.35,-4.368, 81.55,-4.508, 81.75,-4.292, 81.95,-4.419, 80.25,-4.381, 80.65,-4.485, 81.05,-4.529, 81.45,-4.443, 81.85,-4.354, 80.05,-4.411, 80.45,-4.566, 80.85,-4.309, 81.25,-4.472, 81.65,-4.395,
  82.15,-4.392, 82.35,-4.518, 82.55,-4.441, 82.75,-4.303, 82.95,-4.482, 83.15,-4.356, 83.35,-4.427, 83.55,-4.585, 83.75,-4.399, 83.95,-4.463, 82.25,-4.551, 82.65,-4.376, 83.05,-4.505, 83.45,-4.332, 83.85,-4.536, 82.05,-4.421, 82.45,-4.287, 82.85,-4.458, 83.25,-4.568, 83.65,-4.347,
  84.15,-4.527, 84.35,-4.407, 84.55,-4.363, 84.75,-4.496, 84.95,-4.572, 85.15,-4.421, 85.35,-4.338, 85.55,-4.475, 85.75,-4.393, 85.95,-4.546, 84.25,-4.448, 84.65,-4.301, 85.05,-4.386, 85.45,-4.514, 85.85,-4.432, 84.05,-4.374, 84.45,-4.563, 84.85,-4.452, 85.25,-4.289, 85.65,-4.411,
  86.15,-4.369, 86.35,-4.486, 86.55,-4.413, 86.75,-4.551, 86.95,-4.327, 87.15,-4.462, 87.35,-4.589, 87.55,-4.384, 87.75,-4.439, 87.95,-4.512, 86.25,-4.296, 86.65,-4.528, 87.05,-4.422, 87.45,-4.351, 87.85,-4.468, 86.05,-4.541, 86.45,-4.397, 86.85,-4.342, 87.25,-4.505, 87.65,-4.577,
  88.15,-4.477, 88.35,-4.342, 88.55,-4.565, 88.75,-4.418, 88.95,-4.381, 89.15,-4.534, 89.35,-4.451, 89.55,-4.309, 89.75,-4.487, 89.95,-4.366, 88.25,-4.412, 88.65,-4.499, 89.05,-4.286, 89.45,-4.576, 89.85,-4.428, 88.05,-4.357, 88.45,-4.446, 88.85,-4.521, 89.25,-4.393, 89.65,-4.544,
  90.15,-4.338, 90.35,-4.521, 90.55,-4.396, 90.75,-4.457, 90.95,-4.573, 91.15,-4.361, 91.35,-4.487, 91.55,-4.415, 91.75,-4.292, 91.95,-4.538, 90.25,-4.443, 90.65,-4.369, 91.05,-4.506, 91.45,-4.582, 91.85,-4.422, 90.05,-4.476, 90.45,-4.318, 90.85,-4.431, 91.25,-4.355, 91.65,-4.469,
  92.15,-4.508, 92.35,-4.386, 92.55,-4.441, 92.75,-4.329, 92.95,-4.553, 93.15,-4.417, 93.35,-4.472, 93.55,-4.298, 93.75,-4.379, 93.95,-4.524, 92.25,-4.586, 92.65,-4.458, 93.05,-4.345, 93.45,-4.437, 93.85,-4.566, 92.05,-4.403, 92.45,-4.321, 92.85,-4.495, 93.25,-4.541, 93.65,-4.362,
  94.15,-4.427, 94.35,-4.555, 94.55,-4.373, 94.75,-4.489, 94.95,-4.311, 95.15,-4.446, 95.35,-4.527, 95.55,-4.394, 95.75,-4.579, 95.95,-4.358, 94.25,-4.468, 94.65,-4.332, 95.05,-4.585, 95.45,-4.419, 95.85,-4.483, 94.05,-4.346, 94.45,-4.402, 94.85,-4.536, 95.25,-4.286, 95.65,-4.452,
  96.15,-4.392, 96.35,-4.478, 96.55,-4.314, 96.75,-4.536, 96.95,-4.421, 97.15,-4.357, 97.35,-4.563, 97.55,-4.439, 97.75,-4.384, 97.95,-4.502, 96.25,-4.541, 96.65,-4.409, 97.05,-4.297, 97.45,-4.466, 97.85,-4.331, 96.05,-4.455, 96.45,-4.587, 96.85,-4.368, 97.25,-4.513, 97.65,-4.426,
  98.15,-4.363, 98.35,-4.536, 98.55,-4.448, 98.75,-4.307, 98.95,-4.491, 99.15,-4.414, 99.35,-4.572, 99.55,-4.386, 99.75,-4.459, 99.95,-4.328, 98.25,-4.421, 98.65,-4.511, 99.05,-4.352, 99.45,-4.547, 99.85,-4.403, 98.05,-4.478, 98.45,-4.294, 98.85,-4.583, 99.25,-4.437, 99.65,-4.375
];

const upperTail = [
  4.6,-4.018, 41.6,-4.029, 45.2,-4.045, 47.2,-4.035, 20.0,-4.094, 28.7,-4.091, 30.65,-4.125, 1.0,-4.137, 5.2,-4.135, 8.4,-4.132,
  9.3,-4.153, 15.2,-4.14, 17.0,-4.149, 19.5,-4.141, 20.6,-4.13, 21.3,-4.157, 23.5,-4.151, 23.95,-4.178, 25.65,-4.173, 27.4,-4.158,
  28.3,-4.145, 27.9,-4.181, 31.35,-4.196, 33.6,-4.176, 35.0,-4.154, 35.8,-4.166, 36.8,-4.153, 49.3,-4.105, 46.4,-4.111, 46.5,-4.106,
  50.25,-4.135, 0.65,-4.171, 2.3,-4.159, 2.95,-4.183, 4.16,-4.189, 10.6,-4.174, 10.95,-4.187, 13.9,-4.185,
  62.6,-4.049, 58.7,-4.063, 67.5,-4.065, 68.2,-4.062, 54.8,-4.084, 62.2,-4.099, 63.6,-4.087, 77.75,-4.082, 50.5,-4.134, 51.6,-4.134,
  54.2,-4.142, 68.5,-4.14, 72.0,-4.108, 73.9,-4.116, 75.7,-4.129, 78.3,-4.125, 75.3,-4.154, 79.15,-4.154, 80.4,-4.146, 88.45,-4.122,
  88.5,-4.159, 96.4,-4.13, 97.4,-4.14, 97.65,-4.156, 93.85,-4.147, 70.7,-4.158, 71.2,-4.18, 73.3,-4.17, 53.0,-4.17, 61.95,-4.171,
  63.1,-4.184, 85.85,-4.168, 87.9,-4.177, 89.15,-4.174, 91.4,-4.185, 98.5,-4.183, 50.7,-4.189, 56.0,-4.187
];

const lowerTail = [
  24.55,-4.963, 40.55,-4.92, 21.87,-4.902, 1.57,-4.911, 2.17,-4.896, 12.85,-4.876, 17.43,-4.868, 5.64,-4.846, 8.18,-4.848, 34.53,-4.836,
  39.62,-4.833, 45.03,-4.862, 21.4,-4.81, 22.42,-4.814, 24.23,-4.797, 24.46,-4.787, 26.21,-4.805, 28.85,-4.811, 29.68,-4.798, 29.78,-4.807,
  30.79,-4.788, 32.18,-4.781, 33.75,-4.796, 36.2,-4.788, 14.24,-4.786, 17.66,-4.768, 7.4,-4.788, 5.23,-4.78, 5.73,-4.788, 1.9,-4.768,
  3.88,-4.754, 0.6,-4.744, 0.46,-4.724, 1.15,-4.702, 5.18,-4.707, 6.1,-4.696, 7.45,-4.755, 7.95,-4.738, 7.59,-4.709, 8.37,-4.7,
  11.14,-4.707, 14.52,-4.745, 16.04,-4.713, 16.96,-4.726, 20.94,-4.755, 22.51,-4.743, 21.87,-4.716, 22.98,-4.72, 25.15,-4.714, 26.45,-4.735,
  27.14,-4.758, 28.16,-4.723, 29.03,-4.71, 29.22,-4.733, 29.96,-4.714, 33.15,-4.716, 33.38,-4.724, 33.98,-4.734, 34.67,-4.753, 34.81,-4.716,
  35.78,-4.74, 36.89,-4.74, 37.54,-4.736, 38.46,-4.734, 39.39,-4.728, 39.25,-4.76, 40.32,-4.707, 40.78,-4.716, 42.86,-4.729, 43.0,-4.7,
  47.25,-4.789, 48.4,-4.766, 48.87,-4.733, 47.71,-4.714,
  72.86,-4.947, 51.69,-4.863, 58.21,-4.886, 59.22,-4.896, 52.43,-4.813, 53.35,-4.804, 54.51,-4.808, 54.74,-4.811, 55.06,-4.826, 55.53,-4.849,
  56.87,-4.845, 57.1,-4.839, 57.51,-4.824, 59.04,-4.826, 61.44,-4.792, 61.4,-4.753, 62.74,-4.727, 62.65,-4.743, 63.98,-4.768, 64.95,-4.777,
  67.82,-4.843, 68.06,-4.775, 67.08,-4.742, 70.36,-4.826, 71.52,-4.833, 69.58,-4.737, 72.03,-4.736, 74.25,-4.717, 74.94,-4.747, 78.46,-4.826,
  80.35,-4.822, 83.12,-4.808, 85.39,-4.85, 89.04,-4.839, 96.12,-4.84, 78.74,-4.75, 79.06,-4.774, 80.21,-4.729, 82.25,-4.726, 83.91,-4.76,
  84.51,-4.722, 87.56,-4.755, 87.98,-4.727, 89.32,-4.758, 88.9,-4.714, 90.94,-4.751, 91.4,-4.745, 92.0,-4.737, 93.11,-4.77, 93.58,-4.744,
  94.83,-4.789, 95.33,-4.745, 95.38,-4.754, 96.53,-4.777, 97.92,-4.734, 99.35,-4.761, 95.61,-4.726, 96.21,-4.72, 96.63,-4.723, 92.65,-4.71,
  93.25,-4.704, 93.94,-4.703, 51.78,-4.757, 53.77,-4.748, 56.59,-4.705, 58.35,-4.71, 58.76,-4.722, 60.24,-4.714, 52.88,-4.703, 54.46,-4.715,
  69.07,-4.705, 71.29,-4.708, 99.82,-4.699
];

function toPoints(flat) {
  const pts = [];
  for (let i = 0; i < flat.length; i += 2) {
    pts.push({ x: flat[i] * 1000, y: flat[i + 1] });
  }
  return pts;
}

const samples = [].concat(
  toPoints(drawsFirstHalf), toPoints(drawsSecondHalf), toPoints(drawsCore),
  toPoints(upperTail), toPoints(lowerTail)
);

const axisFont = { family: '"Liberation Sans", Arial, Helvetica, sans-serif', size: 24 };

// box round the plot with inward ticks on all four sides
const matlabFrame = {
  id: 'matlabFrame',
  afterDatasetsDraw(chart) {
    const { ctx, chartArea: a, scales } = chart;
    const len = 7;
    ctx.save();
    ctx.strokeStyle = '#000';
    ctx.lineWidth = 1;
    ctx.beginPath();
    scales.x.ticks.forEach(t => {
      const px = Math.round(scales.x.getPixelForValue(t.value)) + 0.5;
      ctx.moveTo(px, a.bottom); ctx.lineTo(px, a.bottom - len);
      ctx.moveTo(px, a.top); ctx.lineTo(px, a.top + len);
    });
    scales.y.ticks.forEach(t => {
      const py = Math.round(scales.y.getPixelForValue(t.value)) + 0.5;
      ctx.moveTo(a.left, py); ctx.lineTo(a.left + len, py);
      ctx.moveTo(a.right, py); ctx.lineTo(a.right - len, py);
    });
    ctx.stroke();
    ctx.strokeRect(a.left + 0.5, a.top + 0.5, a.right - a.left, a.bottom - a.top);
    ctx.restore();
  }
};

new Chart(document.getElementById('trace'), {
  type: 'scatter',
  data: {
    datasets: [
      {
        type: 'line',
        data: [{ x: xRange[0], y: refLevel }, { x: xRange[1], y: refLevel }],
        borderColor: '#000',
        borderWidth: 3,
        pointRadius: 0,
        order: 0
      },
      {
        data: samples,
        backgroundColor: '#cccccc',
        borderColor: '#cccccc',
        borderWidth: 0,
        pointRadius: 3.8,
        pointHoverRadius: 3.8,
        clip: 0,
        order: 1
      }
    ]
  },
  options: {
    responsive: false,
    animation: false,
    devicePixelRatio: 1,
    layout: { padding: { top: 29, right: 53, left: 0, bottom: 0 } },
    plugins: { legend: { display: false }, tooltip: { enabled: false } },
    scales: {
      x: {
        type: 'linear',
        min: xRange[0],
        max: xRange[1],
        afterBuildTicks: s => { s.ticks = xTicks.map(v => ({ value: v })); },
        afterFit: s => { s.height = 66; },
        grid: { display: false, drawTicks: false },
        border: { display: false },
        ticks: {
          font: axisFont, color: '#000', padding: 7, maxRotation: 0, autoSkip: false,
          callback: v => Number(v).toLocaleString('en-US')
        },
        title: { display: true, text: 'Iteration', font: axisFont, color: '#000', padding: { top: 0, bottom: 6 } }
      },
      y: {
        min: -5,
        max: -4,
        afterBuildTicks: s => { s.ticks = yTicks.map(v => ({ value: v })); },
        afterFit: s => { s.width = 56; },
        grid: { display: false, drawTicks: false },
        border: { display: false },
        ticks: {
          font: axisFont, color: '#000', padding: 4, autoSkip: false,
          callback: v => {
            const r = Math.round(v * 10) / 10;
            return (r < 0 ? '\u2212' : '') + Math.abs(r);
          }
        }
      }
    }
  },
  plugins: [matlabFrame]
});
</script>
</body>
</html>
